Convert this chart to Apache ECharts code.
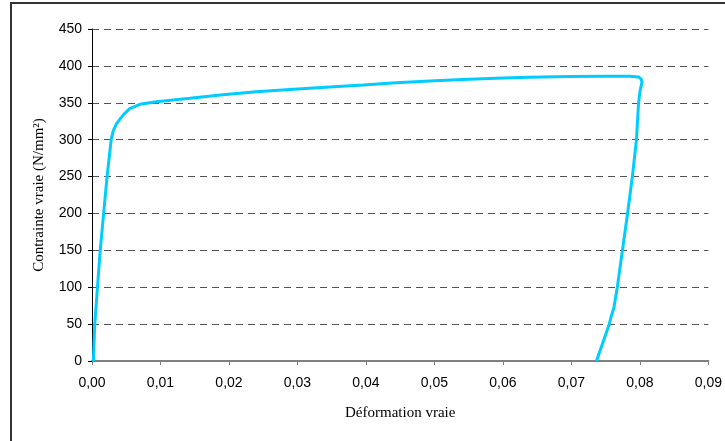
<!DOCTYPE html>
<html>
<head>
<meta charset="utf-8">
<script src="https://cdn.jsdelivr.net/npm/echarts@6/dist/echarts.min.js"></script>
<style>
  html, body { margin: 0; padding: 0; background: #fff; }
  #chart { width: 725px; height: 441px; }
</style>
</head>
<body>
<div id="chart"></div>
<script>
const chart = echarts.init(document.getElementById("chart"));

// ==========================
// DATA
// ==========================

const strain = [
  0.0002, 0.0004, 0.0008, 0.0012, 0.0017, 0.0022, 0.0028, 0.0031, 0.0036,
  0.0046, 0.0055, 0.0070, 0.0094, 0.0143, 0.0191, 0.0240, 0.0289, 0.0347,
  0.0396, 0.0444, 0.0493, 0.0541, 0.0590, 0.0638, 0.0697, 0.0750, 0.0785,
  0.0798, 0.0802, 0.0803, 0.0800, 0.0798, 0.0795, 0.0789, 0.0782, 0.07745,
  0.0767, 0.0762, 0.0760, 0.0758, 0.0755, 0.07366
];
const stress = [
  0, 49, 100, 150, 200, 250, 300, 312, 322,
  334, 342, 348, 351.5, 356, 361, 365, 368, 371.5,
  374, 377, 379.5, 381.5, 383.3, 384.6, 385.5, 386, 386,
  385, 382, 378, 365, 349, 300, 250, 200, 150,
  100, 72, 66, 60, 49, 0
];

const yTicks = { min: 0, max: 450, interval: 50 };
const xTicks = { min: 0, max: 0.09, interval: 0.01 };

const X_NAME = "Déformation vraie";
const Y_NAME = "Contrainte vraie (N/mm²)";

// ==========================
// CHART
// ==========================

chart.setOption({
  animation: false,
  backgroundColor: "#fff",
  graphic: [{
    type: "rect",
    shape: { x: 11, y: 3, width: 800, height: 500 },
    style: { fill: null, stroke: "#333", lineWidth: 2 },
    silent: true
  }],
  grid: { left: 92, right: 16, top: 29, bottom: 80 },
  xAxis: {
    type: "value",
    min: xTicks.min,
    max: xTicks.max,
    interval: xTicks.interval,
    name: X_NAME,
    nameLocation: "middle",
    nameGap: 45,
    nameTextStyle: { fontFamily: "Liberation Serif", fontSize: 15, color: "#000" },
    axisLine: { onZero: false, lineStyle: { color: "#808080", width: 2 } },
    axisTick: { show: true, length: 4, lineStyle: { color: "#808080" } },
    axisLabel: {
      margin: 15,
      fontFamily: "Liberation Sans",
      fontSize: 14,
      color: "#000",
      formatter: v => v.toFixed(2).replace(".", ",")
    },
    splitLine: { show: false }
  },
  yAxis: {
    type: "value",
    min: yTicks.min,
    max: yTicks.max,
    interval: yTicks.interval,
    name: Y_NAME,
    nameLocation: "middle",
    nameGap: 45,
    nameTextStyle: { fontFamily: "Liberation Serif", fontSize: 15, color: "#000" },
    axisLine: { show: true, onZero: false, lineStyle: { color: "#000", width: 1 } },
    axisTick: { show: true, length: 4, lineStyle: { color: "#000" } },
    axisLabel: {
      margin: 10,
      fontFamily: "Liberation Sans",
      fontSize: 14,
      color: "#000"
    },
    splitLine: {
      show: true,
      lineStyle: { color: "#555", width: 1, type: [7, 5] }
    }
  },
  series: [{
    type: "line",
    data: strain.map((x, i) => [x, stress[i]]),
    showSymbol: false,
    lineStyle: { color: "#00CCFF", width: 3 },
    itemStyle: { color: "#00CCFF" }
  }]
});
</script>
</body>
</html>
